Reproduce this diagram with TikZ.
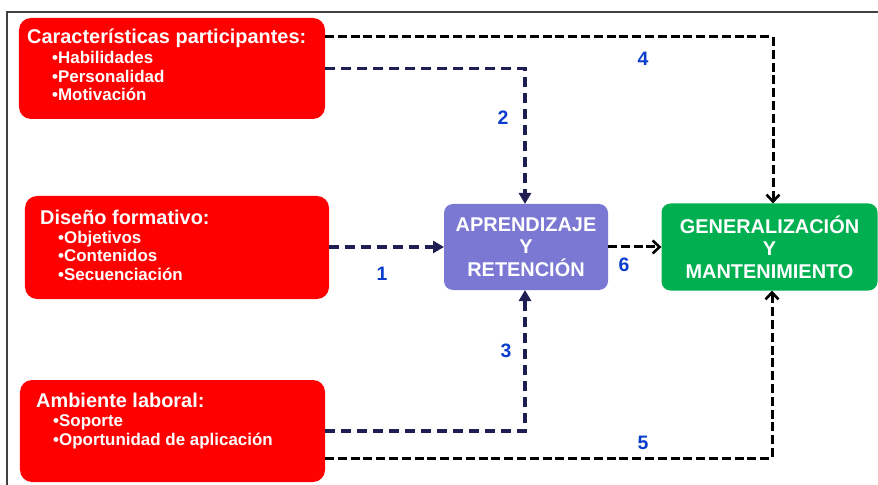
\documentclass[tikz,border=0pt]{standalone}
\usepackage{fontspec}
\setmainfont{Liberation Sans}
\usetikzlibrary{arrows.meta}
\definecolor{boxred}{HTML}{FF0000}
\definecolor{boxlav}{HTML}{7B78D4}
\definecolor{boxgreen}{HTML}{00B050}
\definecolor{navyline}{HTML}{1E1E52}
\definecolor{lblblue}{HTML}{0A3DCC}
\definecolor{framecol}{HTML}{404040}
\tikzset{
  redbox/.style={draw=none, fill=boxred, rounded corners=12bp, inner sep=0pt, outer sep=0pt},
  lavbox/.style={draw=none, fill=boxlav, rounded corners=9bp, inner sep=0pt, outer sep=0pt,
     text=white, align=center, font=\bfseries\fontsize{20}{22.5}\selectfont},
  greenbox/.style={draw=none, fill=boxgreen, rounded corners=9bp, inner sep=0pt, outer sep=0pt,
     text=white, align=center, font=\bfseries\fontsize{20}{22.5}\selectfont},
  boxtitle/.style={anchor=base west, inner sep=0pt, text=white, font=\bfseries\fontsize{20}{22}\selectfont},
  boxitem/.style={anchor=base west, inner sep=0pt, text=white, font=\bfseries\fontsize{17}{19}\selectfont},
  numlbl/.style={inner sep=0pt, text=lblblue, font=\bfseries\fontsize{19.5}{21}\selectfont},
  navyarr/.style={draw=navyline, line width=3.3bp, dash pattern=on 10bp off 6bp,
     -{Triangle[length=11bp,width=12bp]}},
  blackarr/.style={draw=black, line width=3bp, dash pattern=on 9bp off 3.8bp,
     -{Straight Barb[length=7bp,width=13bp,line width=2.6bp]}}
}
\begin{document}
\begin{tikzpicture}[x=1bp,y=-1bp]
\useasboundingbox (0,0) rectangle (878,485);
\fill[white] (0,0) rectangle (878,485);
\draw[framecol, line width=1.4bp] (7,485) -- (7,12) -- (878,12);

% red boxes
\node[redbox, minimum width=306bp, minimum height=101bp] (b1) at (172,68.5) {};
\node[redbox, minimum width=304bp, minimum height=103bp] (b2) at (177,247.5) {};
\node[redbox, minimum width=305bp, minimum height=102bp] (b3) at (172.5,431) {};

\node[boxtitle] (b1t) at (27,44) {Características participantes:};
\node[boxitem] (b1a) at (52,64) {•Habilidades};
\node[boxitem] (b1b) at (52,83) {•Personalidad};
\node[boxitem] (b1c) at (52,101) {•Motivación};

\node[boxtitle] (b2t) at (40,225) {Diseño formativo:};
\node[boxitem] (b2a) at (58,244) {•Objetivos};
\node[boxitem] (b2b) at (58,262) {•Contenidos};
\node[boxitem] (b2c) at (58,281) {•Secuenciación};

\node[boxtitle] (b3t) at (36,407) {Ambiente laboral:};
\node[boxitem] (b3a) at (53,426) {•Soporte};
\node[boxitem] (b3b) at (53,445) {•Oportunidad de aplicación};

% central boxes
\node[lavbox, minimum width=164bp, minimum height=86bp] (app) at (526,247) {APRENDIZAJE\\Y\\RETENCIÓN};
\node[greenbox, minimum width=216bp, minimum height=87bp] (gen) at (769.5,247) {GENERALIZACIÓN\\Y\\MANTENIMIENTO};

% connectors
\coordinate (r4) at (0,37);
\coordinate (r5) at (0,458);
\draw[blackarr] (b1.east |- r4) -| ([xshift=3.5bp]gen.north);
\draw[navyarr] (b1.east) -| ([xshift=-1bp]app.north);
\draw[navyarr] (b2.east |- app.west) -- (app.west);
\draw[blackarr] (app.east) -- (gen.west);
\draw[navyarr] (b3.east) -| ([xshift=-1bp]app.south);
\draw[blackarr] (b3.east |- r5) -| ([xshift=2.5bp]gen.south);

% labels
\node[numlbl] (l1) at (382,274) {1};
\node[numlbl] (l2) at (503,118) {2};
\node[numlbl] (l3) at (506,351) {3};
\node[numlbl] (l4) at (643,59) {4};
\node[numlbl] (l5) at (643,443) {5};
\node[numlbl] (l6) at (624,265) {6};
\end{tikzpicture}
\end{document}
